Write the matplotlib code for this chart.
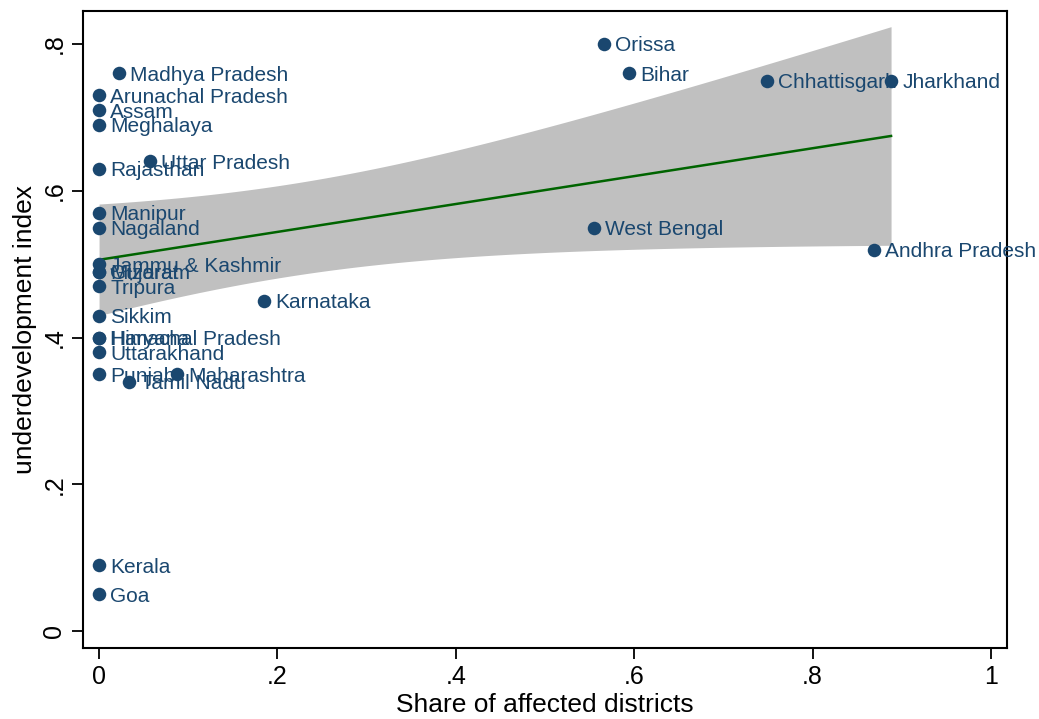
import numpy as np
import matplotlib
matplotlib.use("Agg")
import matplotlib.pyplot as plt

states = ["Orissa", "Bihar", "Chhattisgarh", "Jharkhand", "Madhya Pradesh",
          "Arunachal Pradesh", "Assam", "Meghalaya", "Uttar Pradesh", "Rajasthan",
          "Manipur", "Nagaland", "West Bengal", "Andhra Pradesh", "Jammu & Kashmir",
          "Mizoram", "Gujarat", "Tripura", "Karnataka", "Sikkim",
          "Himachal Pradesh", "Haryana", "Uttarakhand", "Punjab", "Maharashtra",
          "Tamil Nadu", "Kerala", "Goa"]
share = [0.566, 0.594, 0.749, 0.888, 0.022,
         0.0, 0.0, 0.0, 0.057, 0.0,
         0.0, 0.0, 0.555, 0.869, 0.0,
         0.0, 0.0, 0.0, 0.185, 0.0,
         0.0, 0.0, 0.0, 0.0, 0.087,
         0.034, 0.0, 0.0]
index = [0.80, 0.76, 0.75, 0.75, 0.76,
         0.73, 0.71, 0.69, 0.64, 0.63,
         0.57, 0.55, 0.55, 0.52, 0.50,
         0.49, 0.49, 0.47, 0.45, 0.43,
         0.40, 0.40, 0.38, 0.35, 0.35,
         0.34, 0.09, 0.05]

# Linear fit and its 95% CI
fit_intercept = 0.506
fit_slope = 0.19
ci_min_halfwidth = 0.0628   # narrowest half-width of the band
ci_center_x = 0.2135        # x where the band is narrowest
ci_curvature = 0.0401       # growth of squared half-width with distance

xticks = [0, 0.2, 0.4, 0.6, 0.8, 1.0]
xtick_labels = ["0", ".2", ".4", ".6", ".8", "1"]
yticks = [0, 0.2, 0.4, 0.6, 0.8]
ytick_labels = ["0", ".2", ".4", ".6", ".8"]

plt.rcParams['font.family'] = ['Liberation Sans', 'DejaVu Sans']

navy = '#1a476f'
fig = plt.figure(figsize=(10.39, 7.19), dpi=100)
ax = fig.add_axes([0.0799, 0.0987, 0.9692 - 0.0799, 0.9847 - 0.0987])

x = np.array(share)
y = np.array(index)
xs = np.linspace(x.min(), x.max(), 200)
yhat = fit_intercept + fit_slope * xs
half = np.sqrt(ci_min_halfwidth ** 2 + ci_curvature * (xs - ci_center_x) ** 2)
ax.fill_between(xs, yhat - half, yhat + half, color='#c0c0c0', lw=0, zorder=1)
ax.plot(xs, yhat, color='#006400', lw=1.8, zorder=2)

ax.scatter(x, y, s=95, color=navy, zorder=3, linewidths=0)
fs = 15
for name, xi, yi in zip(states, share, index):
    ax.annotate(name, (xi, yi), xytext=(8.0, -0.716 * fs / 2), textcoords='offset points',
                va='baseline', ha='left', fontsize=fs, color=navy, zorder=4,
                annotation_clip=False)

ax.set_xlim(-0.018, 1.018)
ax.set_ylim(-0.023, 0.845)
ax.set_xticks(xticks)
ax.set_xticklabels(xtick_labels)
ax.set_yticks(yticks)
ax.set_yticklabels(ytick_labels, rotation=90, va='center')
ax.tick_params(axis='both', labelsize=18, length=8, width=1.3, pad=4, color='black')
for sp in ax.spines.values():
    sp.set_linewidth(1.5)
ax.set_xlabel("Share of affected districts", fontsize=19, labelpad=3)
ax.set_ylabel("underdevelopment index", fontsize=19, labelpad=4)

fig.savefig("out.png", dpi=100)
